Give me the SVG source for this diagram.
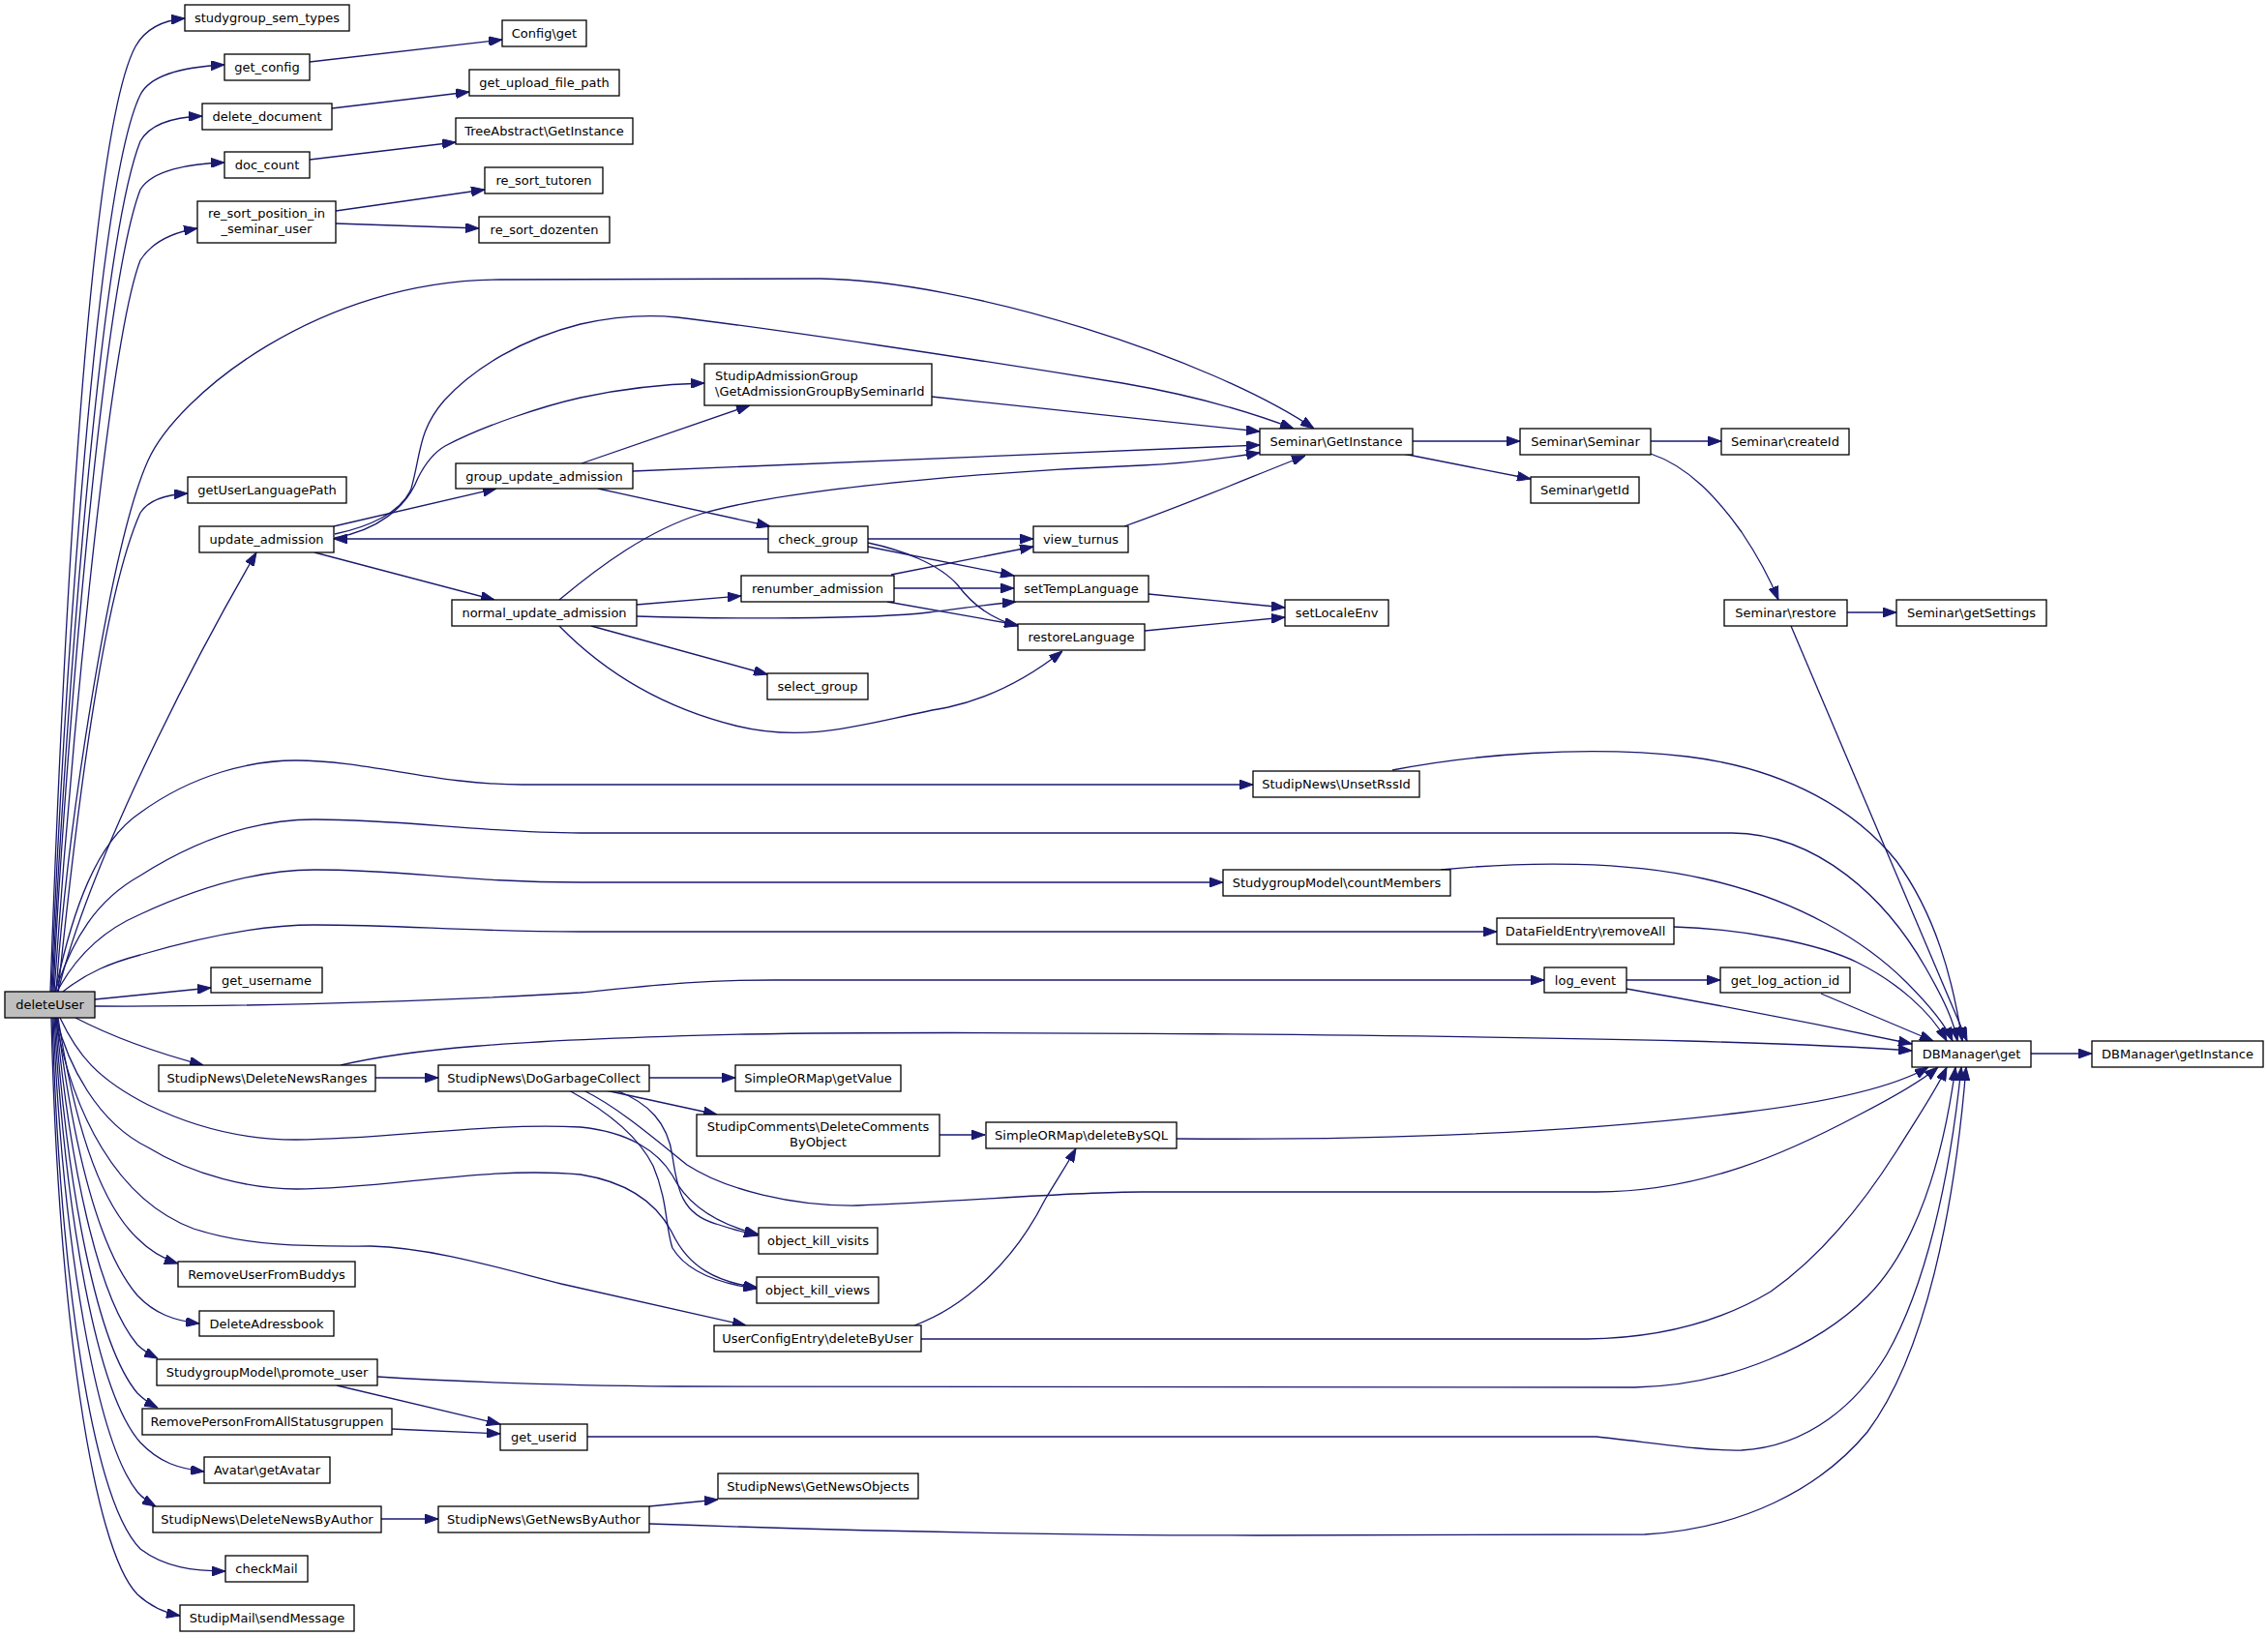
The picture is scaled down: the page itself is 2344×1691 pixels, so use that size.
<svg xmlns="http://www.w3.org/2000/svg" width="2344" height="1691" viewBox="0 0 2344 1691">
<defs>
<style>
.node rect{fill:#ffffff;stroke:#000000;stroke-width:1.3}
.node.root rect{fill:#bfbfbf}
.node text{font-family:"DejaVu Sans","Liberation Sans",sans-serif;font-size:13px;fill:#000000;text-anchor:middle}
.node text.l{text-anchor:start}
.edges path{fill:none;stroke:#191970;stroke-width:1.3;marker-end:url(#arr)}
</style>
<marker id="arr" viewBox="0 0 14 10" refX="14" refY="5" markerWidth="14" markerHeight="10" markerUnits="userSpaceOnUse" orient="auto">
<path d="M0,0 L14,5 L0,10 Z" fill="#191970" stroke="#191970" stroke-width="1"/>
</marker>
</defs>
<rect x="0" y="0" width="2344" height="1691" fill="#ffffff"/>
<g id="edges" class="edges">
<path d="M52,1025 C60,800 85,150 140,48 C150,30 168,21 191,19"/>
<path d="M53,1025 C62,800 95,200 145,98 C155,78 190,69 232,67"/>
<path d="M54,1025 C64,800 100,260 145,146 C155,128 180,121 209,120"/>
<path d="M55,1025 C66,800 105,300 145,196 C157,176 195,169 232,168"/>
<path d="M56,1025 C70,820 110,360 145,269 C157,250 180,240 204,236"/>
<path d="M58,1025 C70,850 115,560 153,476 C183,409 330,289 517,289 L848,288 C1000,290 1250,370 1358,443"/>
<path d="M60,1025 C78,850 105,620 145,530 C154,516 175,511 194,510"/>
<path d="M60,1025 C90,900 190,700 265,571"/>
<path d="M57,1025 C75,940 100,870 145,840 C200,800 260,786 306,786 C380,786 450,811 540,811 L1295,811"/>
<path d="M57,1025 C75,970 100,930 145,905 C200,870 260,847 325,847 C420,847 500,861 600,861 L1790,861 C1880,862 1950,930 1990,1000 C2010,1035 2019,1055 2023,1076"/>
<path d="M59,1025 C80,985 110,960 145,945 C210,915 270,899 325,899 C420,899 480,912 600,912 L1264,912"/>
<path d="M65,1025 C90,1005 115,995 145,987 C210,968 270,956 325,956 C420,956 480,963 600,963 L1547,963"/>
<path d="M98,1033 L218,1021"/>
<path d="M98,1040 C300,1041 500,1032 600,1026 C680,1018 720,1013 800,1013 L1596,1013"/>
<path d="M78,1052 C105,1066 150,1085 210,1101"/>
<path d="M62,1052 C80,1090 100,1115 153,1142 C200,1165 250,1178 306,1178 C400,1178 500,1160 600,1165 C650,1170 680,1190 695,1215 C710,1245 740,1265 784,1276"/>
<path d="M58,1052 C70,1100 100,1160 153,1186 C200,1215 260,1229 306,1229 C400,1229 500,1205 600,1214 C650,1222 680,1245 695,1275 C712,1310 740,1325 783,1331"/>
<path d="M57,1052 C75,1150 120,1240 200,1270 C260,1290 330,1288 383,1288 C450,1290 520,1312 580,1327 L771,1370"/>
<path d="M60,1052 C75,1150 100,1240 142,1280 C155,1293 168,1301 184,1306"/>
<path d="M59,1052 C75,1180 100,1290 142,1339 C160,1358 180,1365 206,1368"/>
<path d="M58,1052 C72,1200 100,1340 142,1390 C148,1396 155,1400 163,1404"/>
<path d="M57,1052 C70,1230 100,1390 142,1440 C148,1446 155,1451 163,1455"/>
<path d="M56,1052 C68,1260 100,1440 145,1491 C165,1512 185,1518 211,1521"/>
<path d="M55,1052 C65,1290 100,1490 142,1542 C148,1549 154,1553 161,1557"/>
<path d="M54,1052 C62,1320 95,1550 145,1601 C170,1620 200,1624 233,1624"/>
<path d="M53,1052 C60,1350 95,1600 142,1648 C155,1660 170,1667 186,1670"/>
<path d="M320,64 L519,41"/>
<path d="M343,112 L485,95"/>
<path d="M320,165 L471,147"/>
<path d="M347,218 L501,196"/>
<path d="M347,231 L495,236"/>
<path d="M345,544 L513,505"/>
<path d="M346,552 C380,545 415,530 425,505 C435,470 432,445 459,414 C490,380 540,350 600,335 C640,326 670,325 700,328 C800,340 1000,370 1160,396 C1230,408 1290,425 1337,443"/>
<path d="M346,556 C390,548 420,525 432,494 C440,478 448,468 460,461 C500,440 560,420 600,411 C650,400 690,397 728,396"/>
<path d="M794,557 L345,557"/>
<path d="M601,479 L775,419"/>
<path d="M654,487 L1302,460"/>
<path d="M618,505 L796,544"/>
<path d="M963,410 L1302,446"/>
<path d="M578,620 C620,585 670,548 725,531 C820,503 1050,486 1180,481 C1230,479 1270,473 1302,468"/>
<path d="M658,625 L766,616"/>
<path d="M658,637 C750,640 900,640 960,633 C1000,628 1030,624 1050,622"/>
<path d="M611,647 L793,697"/>
<path d="M578,647 C620,690 680,730 760,750 C840,770 900,745 980,731 C1030,720 1070,695 1098,673"/>
<path d="M325,571 L511,620"/>
<path d="M897,557 L1068,557"/>
<path d="M897,565 L1048,595"/>
<path d="M897,561 C930,568 970,582 990,605 C1005,625 1025,640 1052,647"/>
<path d="M921,594 L1068,565"/>
<path d="M924,608 L1048,608"/>
<path d="M917,622 L1052,646"/>
<path d="M1162,544 C1230,520 1300,490 1349,471"/>
<path d="M1187,614 L1328,628"/>
<path d="M1183,652 L1328,638"/>
<path d="M1460,456 L1571,456"/>
<path d="M1450,469 L1582,495"/>
<path d="M1706,456 L1779,456"/>
<path d="M1706,469 C1745,482 1775,515 1800,550 C1818,577 1830,600 1838,620"/>
<path d="M1909,633 L1960,633"/>
<path d="M1851,647 L2033,1076"/>
<path d="M1439,796 C1520,780 1640,770 1744,782 C1850,795 1920,840 1960,890 C2000,945 2018,1010 2028,1076"/>
<path d="M1489,899 C1580,890 1680,890 1760,908 C1860,930 1930,975 1970,1015 C1995,1040 2010,1058 2018,1076"/>
<path d="M1730,958 C1800,960 1880,975 1920,995 C1960,1015 1995,1045 2012,1076"/>
<path d="M1681,1013 L1778,1013"/>
<path d="M1681,1022 C1800,1043 1900,1063 1976,1079"/>
<path d="M1882,1027 L1998,1076"/>
<path d="M352,1101 C420,1085 520,1075 771,1069 C1000,1065 1500,1070 1744,1076 C1850,1079 1920,1082 1976,1086"/>
<path d="M388,1114 L453,1114"/>
<path d="M671,1114 L760,1114"/>
<path d="M626,1127 L741,1152"/>
<path d="M637,1127 C670,1140 690,1160 695,1195 C700,1230 705,1255 740,1265 C755,1270 770,1274 783,1277"/>
<path d="M588,1127 C630,1150 660,1175 675,1205 C690,1240 688,1270 695,1290 C710,1315 745,1327 782,1332"/>
<path d="M603,1127 C640,1145 680,1180 710,1204 C750,1230 820,1247 886,1246 C1000,1242 1100,1232 1180,1232 L1650,1232 C1760,1232 1850,1190 1920,1153 C1955,1135 1985,1118 2003,1103"/>
<path d="M1216,1177 C1450,1179 1650,1168 1800,1150 C1900,1138 1960,1122 1993,1103"/>
<path d="M952,1384 L1640,1384 C1720,1383 1780,1365 1830,1335 C1880,1300 1925,1245 1960,1190 C1985,1150 2002,1125 2012,1103"/>
<path d="M390,1423 C500,1430 600,1432 700,1433 L1690,1434 C1790,1432 1880,1390 1930,1340 C1980,1290 2008,1200 2021,1103"/>
<path d="M607,1485 L1650,1485 C1700,1490 1760,1500 1800,1499 C1870,1495 1920,1450 1950,1400 C1990,1330 2015,1220 2027,1103"/>
<path d="M671,1575 C900,1583 1100,1587 1300,1587 L1700,1586 C1800,1580 1880,1540 1930,1480 C1990,1400 2020,1250 2032,1103"/>
<path d="M971,1173 L1018,1173"/>
<path d="M945,1370 C1000,1350 1050,1300 1080,1240 C1095,1215 1105,1200 1112,1187"/>
<path d="M348,1432 L517,1472"/>
<path d="M405,1477 L517,1482"/>
<path d="M394,1570 L453,1570"/>
<path d="M671,1557 L742,1550"/>
<path d="M2099,1089 L2162,1089"/>
</g>
<g id="n_studygroup_sem_types" class="node"><rect x="191" y="5" width="170" height="27"/><text x="276" y="23">studygroup_sem_types</text></g>
<g id="n_config_get" class="node"><rect x="519" y="21" width="87" height="27"/><text x="562.5" y="39">Config\get</text></g>
<g id="n_get_config" class="node"><rect x="232" y="56" width="88" height="27"/><text x="276" y="74">get_config</text></g>
<g id="n_get_upload_file_path" class="node"><rect x="485" y="72" width="155" height="27"/><text x="562.5" y="90">get_upload_file_path</text></g>
<g id="n_delete_document" class="node"><rect x="209" y="107" width="134" height="27"/><text x="276" y="125">delete_document</text></g>
<g id="n_treeabstract_getinstance" class="node"><rect x="471" y="122" width="183" height="27"/><text x="562.5" y="140">TreeAbstract\GetInstance</text></g>
<g id="n_doc_count" class="node"><rect x="232" y="157" width="88" height="27"/><text x="276" y="175">doc_count</text></g>
<g id="n_re_sort_tutoren" class="node"><rect x="501" y="173" width="122" height="27"/><text x="562" y="191">re_sort_tutoren</text></g>
<g id="n_re_sort_position" class="node"><rect x="204" y="208" width="143" height="43"/><text x="275.5" y="225">re_sort_position_in</text><text x="275.5" y="241">_seminar_user</text></g>
<g id="n_re_sort_dozenten" class="node"><rect x="495" y="224" width="135" height="27"/><text x="562.5" y="242">re_sort_dozenten</text></g>
<g id="n_getUserLanguagePath" class="node"><rect x="194" y="493" width="164" height="27"/><text x="276" y="511">getUserLanguagePath</text></g>
<g id="n_update_admission" class="node"><rect x="206" y="544" width="139" height="27"/><text x="275.5" y="562">update_admission</text></g>
<g id="n_group_update_admission" class="node"><rect x="471" y="479" width="183" height="26"/><text x="562.5" y="496.5">group_update_admission</text></g>
<g id="n_studipadmissiongroup" class="node"><rect x="728" y="376" width="235" height="43"/><text class="l" x="739" y="393">StudipAdmissionGroup</text><text class="l" x="739" y="409">\GetAdmissionGroupBySeminarId</text></g>
<g id="n_check_group" class="node"><rect x="794" y="544" width="103" height="27"/><text x="845.5" y="562">check_group</text></g>
<g id="n_view_turnus" class="node"><rect x="1068" y="544" width="98" height="27"/><text x="1117" y="562">view_turnus</text></g>
<g id="n_seminar_getinstance" class="node"><rect x="1302" y="443" width="158" height="27"/><text x="1381" y="461">Seminar\GetInstance</text></g>
<g id="n_seminar_seminar" class="node"><rect x="1571" y="443" width="135" height="27"/><text x="1638.5" y="461">Seminar\Seminar</text></g>
<g id="n_seminar_getid" class="node"><rect x="1582" y="493" width="112" height="27"/><text x="1638" y="511">Seminar\getId</text></g>
<g id="n_seminar_createid" class="node"><rect x="1779" y="443" width="132" height="27"/><text x="1845" y="461">Seminar\createId</text></g>
<g id="n_normal_update_admission" class="node"><rect x="467" y="620" width="191" height="27"/><text x="562.5" y="638">normal_update_admission</text></g>
<g id="n_renumber_admission" class="node"><rect x="766" y="595" width="158" height="27"/><text x="845" y="613">renumber_admission</text></g>
<g id="n_setTempLanguage" class="node"><rect x="1048" y="595" width="139" height="27"/><text x="1117.5" y="613">setTempLanguage</text></g>
<g id="n_restoreLanguage" class="node"><rect x="1052" y="645" width="131" height="27"/><text x="1117.5" y="663">restoreLanguage</text></g>
<g id="n_select_group" class="node"><rect x="793" y="696" width="104" height="27"/><text x="845" y="714">select_group</text></g>
<g id="n_setLocaleEnv" class="node"><rect x="1328" y="620" width="107" height="27"/><text x="1381.5" y="638">setLocaleEnv</text></g>
<g id="n_seminar_restore" class="node"><rect x="1782" y="620" width="127" height="27"/><text x="1845.5" y="638">Seminar\restore</text></g>
<g id="n_seminar_getsettings" class="node"><rect x="1960" y="620" width="155" height="27"/><text x="2037.5" y="638">Seminar\getSettings</text></g>
<g id="n_unsetrssid" class="node"><rect x="1295" y="797" width="172" height="27"/><text x="1381" y="815">StudipNews\UnsetRssId</text></g>
<g id="n_countmembers" class="node"><rect x="1264" y="899" width="235" height="27"/><text x="1381.5" y="917">StudygroupModel\countMembers</text></g>
<g id="n_removeall" class="node"><rect x="1547" y="949" width="183" height="27"/><text x="1638.5" y="967">DataFieldEntry\removeAll</text></g>
<g id="n_log_event" class="node"><rect x="1596" y="1000" width="85" height="26"/><text x="1638.5" y="1017.5">log_event</text></g>
<g id="n_get_log_action_id" class="node"><rect x="1778" y="1000" width="134" height="26"/><text x="1845" y="1017.5">get_log_action_id</text></g>
<g id="n_dbmanager_get" class="node"><rect x="1976" y="1076" width="123" height="27"/><text x="2037.5" y="1094">DBManager\get</text></g>
<g id="n_dbmanager_getinstance" class="node"><rect x="2162" y="1076" width="177" height="27"/><text x="2250.5" y="1094">DBManager\getInstance</text></g>
<g id="n_deleteUser" class="node root"><rect x="5" y="1025" width="93" height="27"/><text x="51.5" y="1043">deleteUser</text></g>
<g id="n_get_username" class="node"><rect x="218" y="1000" width="115" height="26"/><text x="275.5" y="1017.5">get_username</text></g>
<g id="n_deletenewsranges" class="node"><rect x="164" y="1101" width="224" height="27"/><text x="276" y="1119">StudipNews\DeleteNewsRanges</text></g>
<g id="n_dogarbagecollect" class="node"><rect x="453" y="1101" width="218" height="27"/><text x="562" y="1119">StudipNews\DoGarbageCollect</text></g>
<g id="n_getvalue" class="node"><rect x="760" y="1101" width="171" height="27"/><text x="845.5" y="1119">SimpleORMap\getValue</text></g>
<g id="n_deletecomments" class="node"><rect x="720" y="1152" width="251" height="43"/><text x="845.5" y="1169">StudipComments\DeleteComments</text><text x="845.5" y="1185">ByObject</text></g>
<g id="n_deletebysql" class="node"><rect x="1019" y="1160" width="197" height="27"/><text x="1117.5" y="1178">SimpleORMap\deleteBySQL</text></g>
<g id="n_object_kill_visits" class="node"><rect x="784" y="1269" width="123" height="27"/><text x="845.5" y="1287">object_kill_visits</text></g>
<g id="n_object_kill_views" class="node"><rect x="782" y="1320" width="126" height="27"/><text x="845" y="1338">object_kill_views</text></g>
<g id="n_userconfig_deletebyuser" class="node"><rect x="738" y="1370" width="214" height="27"/><text x="845" y="1388">UserConfigEntry\deleteByUser</text></g>
<g id="n_removeuserfrombuddys" class="node"><rect x="184" y="1304" width="183" height="26"/><text x="275.5" y="1321.5">RemoveUserFromBuddys</text></g>
<g id="n_deleteadressbook" class="node"><rect x="206" y="1355" width="139" height="26"/><text x="275.5" y="1372.5">DeleteAdressbook</text></g>
<g id="n_promote_user" class="node"><rect x="162" y="1405" width="228" height="27"/><text x="276" y="1423">StudygroupModel\promote_user</text></g>
<g id="n_removeperson" class="node"><rect x="147" y="1456" width="258" height="27"/><text x="276" y="1474">RemovePersonFromAllStatusgruppen</text></g>
<g id="n_get_userid" class="node"><rect x="517" y="1472" width="90" height="27"/><text x="562" y="1490">get_userid</text></g>
<g id="n_getavatar" class="node"><rect x="211" y="1506" width="130" height="27"/><text x="276" y="1524">Avatar\getAvatar</text></g>
<g id="n_deletenewsbyauthor" class="node"><rect x="158" y="1557" width="236" height="27"/><text x="276" y="1575">StudipNews\DeleteNewsByAuthor</text></g>
<g id="n_getnewsbyauthor" class="node"><rect x="453" y="1557" width="218" height="27"/><text x="562" y="1575">StudipNews\GetNewsByAuthor</text></g>
<g id="n_getnewsobjects" class="node"><rect x="742" y="1523" width="207" height="26"/><text x="845.5" y="1540.5">StudipNews\GetNewsObjects</text></g>
<g id="n_checkmail" class="node"><rect x="233" y="1608" width="85" height="27"/><text x="275.5" y="1626">checkMail</text></g>
<g id="n_sendmessage" class="node"><rect x="186" y="1659" width="180" height="27"/><text x="276" y="1677">StudipMail\sendMessage</text></g>
</svg>
